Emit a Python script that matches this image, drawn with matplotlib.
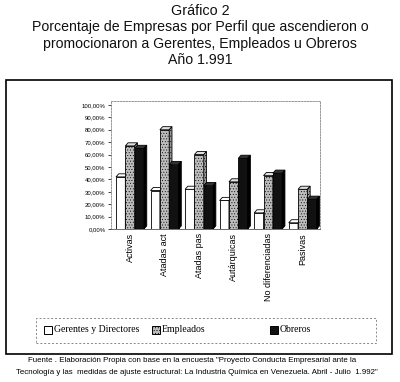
import matplotlib
matplotlib.use('Agg')
import matplotlib.pyplot as plt
import numpy as np
from matplotlib.patches import Rectangle, Polygon

# data (fractions)
categories = ['Activas', 'Atadas act', 'Atadas pas', 'Autárquicas',
              'No diferenciadas', 'Pasivas']
gerentes = [0.42, 0.31, 0.32, 0.23, 0.13, 0.05]
empleados = [0.67, 0.80, 0.60, 0.38, 0.43, 0.32]
obreros = [0.65, 0.52, 0.35, 0.57, 0.45, 0.24]
series_names = ['Gerentes y Directores', 'Empleados', 'Obreros']
yticks = np.arange(0, 1.01, 0.1)

W, H = 400, 382
plt.rcParams['hatch.linewidth'] = 0.35


def fx(px):
    return px / W


def fy(py):
    return 1 - py / H


fig = plt.figure(figsize=(W / 100, H / 100), dpi=100)

# titles
title_lines = ['Gráfico 2',
               'Porcentaje de Empresas por Perfil que ascendieron o',
               'promocionaron a Gerentes, Empleados u Obreros',
               'Año 1.991']
for i, line in enumerate(title_lines):
    fig.text(0.5, fy(11 + i * 16.3), line, ha='center', va='center',
             fontsize=10.4 if i == 0 else 10.2, family='Liberation Sans',
             color='#111111')

# outer frame and legend frame
fig.patches.append(Rectangle((fx(6), fy(354)), fx(392) - fx(6), fy(80) - fy(354),
                             transform=fig.transFigure, fill=False,
                             edgecolor='black', linewidth=1.2))
fig.patches.append(Rectangle((fx(36), fy(343)), fx(376) - fx(36), fy(318) - fy(343),
                             transform=fig.transFigure, fill=False,
                             edgecolor='#888888', linewidth=0.7, linestyle=(0, (2, 2))))

ax = fig.add_axes([fx(111), fy(229), fx(320) - fx(111), fy(101) - fy(229)])
ax.set_ylim(0, 1.032)
ax.set_xlim(-0.55, 5.5)

x = np.arange(len(categories))
bw = 0.27
dx, dy = 0.08, 0.025
styles = [
    dict(face='white', top='white', side='#e8e8e8', hatch=None),
    dict(face='#bdbdbd', top='#e0e0e0', side='#999999', hatch='......'),
    dict(face='#111111', top='#333333', side='#000000', hatch=None),
]
for k, vals in enumerate([gerentes, empleados, obreros]):
    st = styles[k]
    xs = x - bw + k * bw
    bars = ax.bar(xs, vals, width=bw, color=st['face'], edgecolor='black',
                  linewidth=0.6, hatch=st['hatch'], zorder=3 + k)
    for b in bars:
        x0, x1, h = b.get_x(), b.get_x() + b.get_width(), b.get_height()
        ax.add_patch(Polygon([(x0, h), (x0 + dx, h + dy), (x1 + dx, h + dy), (x1, h)],
                             closed=True, facecolor=st['top'], edgecolor='black',
                             linewidth=0.6, zorder=3 + k))
        ax.add_patch(Polygon([(x1, 0), (x1 + dx, dy), (x1 + dx, h + dy), (x1, h)],
                             closed=True, facecolor=st['side'], edgecolor='black',
                             linewidth=0.6, hatch=st['hatch'], zorder=3 + k))

ax.set_yticks(yticks)
ax.set_yticklabels([f'{v * 100:.2f}%'.replace('.', ',') for v in yticks],
                   fontsize=4.3, family='Liberation Sans')
ax.set_xticks(x)
ax.set_xticklabels(categories, rotation=90, fontsize=6.5, family='Liberation Sans',
                   va='top')
ax.tick_params(axis='x', length=0, pad=3)
ax.tick_params(axis='y', length=2, width=0.5, pad=2)
for side in ['top', 'right', 'left']:
    ax.spines[side].set_color('#888888')
    ax.spines[side].set_linewidth(0.6)
    ax.spines[side].set_linestyle((0, (2, 1.5)))
ax.spines['bottom'].set_color('#555555')
ax.spines['bottom'].set_linewidth(0.6)

# legend (drawn by hand to match the spacing of the original)
legend_x = [44, 152, 270]
for k, name in enumerate(series_names):
    st = styles[k]
    fig.patches.append(Rectangle((fx(legend_x[k]), fy(334)), fx(8), 8 / H,
                                 transform=fig.transFigure, facecolor=st['face'],
                                 edgecolor='black', linewidth=0.7, hatch=st['hatch']))
    fig.text(fx(legend_x[k] + 10), fy(330), name, ha='left', va='center',
             fontsize=7.0, family='Liberation Serif')

footer = ['Fuente . Elaboración Propia con base en la encuesta "Proyecto Conducta Empresarial ante la',
          'Tecnología y las  medidas de ajuste estructural: La Industria Química en Venezuela. Abril - Julio  1.992"']
fig.text(fx(28), fy(361), footer[0], ha='left', va='center', fontsize=5.7,
         family='Liberation Sans')
fig.text(fx(16), fy(372), footer[1], ha='left', va='center', fontsize=5.7,
         family='Liberation Sans')

fig.savefig('out.png', dpi=100)
